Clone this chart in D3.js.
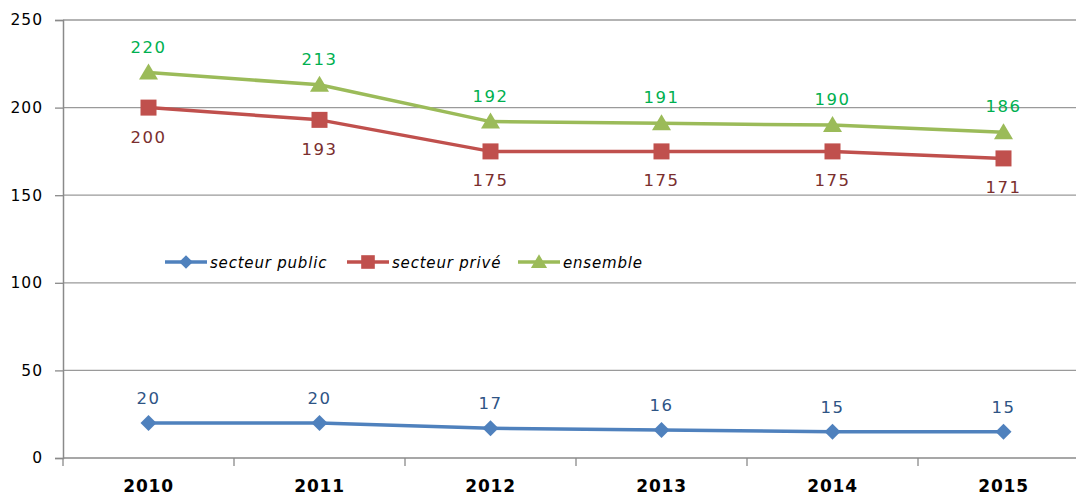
<!DOCTYPE html>
<html><head><meta charset="utf-8">
<script src="https://cdn.jsdelivr.net/npm/d3@7"></script>
<style>body{margin:0;background:#fff}svg{display:block}</style>
</head><body>
<svg id="c" width="1076" height="495"></svg>
<script>
const years = ["2010","2011","2012","2013","2014","2015"];
const publicVals = [20, 20, 17, 16, 15, 15];
const priveVals = [200, 193, 175, 175, 175, 171];
const ensembleVals = [220, 213, 192, 191, 190, 186];
const yTicks = [0, 50, 100, 150, 200, 250];
const seriesNames = ["secteur public", "secteur privé", "ensemble"];

const svg = d3.select("#c");
const F = "'DejaVu Sans', Verdana, sans-serif";
const x = d3.scaleBand().domain(years).range([63, 1089]);
const y = d3.scaleLinear().domain([0, 250]).range([458, 20]);

// gridlines
svg.append("g").selectAll("line").data(yTicks.filter(d => d > 0)).join("line")
  .attr("x1", 63).attr("x2", 1076).attr("y1", d => y(d)).attr("y2", d => y(d))
  .attr("stroke", "#9a9a9a").attr("stroke-width", 1.3);

// y axis
const ya = svg.append("g").attr("transform", "translate(63,0)")
  .call(d3.axisLeft(y).tickValues(yTicks).tickSize(8).tickPadding(12));
ya.select(".domain").attr("stroke", "#8a8a8a").attr("stroke-width", 1.5);
ya.selectAll(".tick line").attr("stroke", "#8a8a8a").attr("stroke-width", 1.3);
ya.selectAll("text").attr("font-family", F).attr("font-size", 15.5).attr("fill", "#000")
  .style("letter-spacing", "1px");

// x axis
const xa = svg.append("g").attr("transform", "translate(0,458)")
  .call(d3.axisBottom(x).tickSize(0).tickPadding(22));
xa.select(".domain").attr("d", "M63,0H1076").attr("stroke", "#8a8a8a").attr("stroke-width", 1.5);
xa.selectAll("text").attr("font-family", F).attr("font-size", 17).attr("font-weight", "bold")
  .attr("fill", "#000").style("letter-spacing", "0.8px");
svg.append("g").selectAll("line").data(years).join("line")
  .attr("x1", d => x(d)).attr("x2", d => x(d)).attr("y1", 458).attr("y2", 466)
  .attr("stroke", "#8a8a8a").attr("stroke-width", 1.3);

const series = [
  {name: seriesNames[0], vals: publicVals, color: "#4F81BD", lab: "#2E5485", marker: "diamond", dy: -19},
  {name: seriesNames[1], vals: priveVals, color: "#C0504D", lab: "#7A2E2E", marker: "square", dy: 35},
  {name: seriesNames[2], vals: ensembleVals, color: "#9BBB59", lab: "#00B050", marker: "triangle", dy: -20}
];

function marker(g, type, color) {
  if (type === "diamond") g.append("path").attr("d", "M0,-8L8,0L0,8L-8,0Z").attr("fill", color);
  if (type === "square") g.append("rect").attr("x", -8).attr("y", -8).attr("width", 16).attr("height", 16).attr("fill", color);
  if (type === "triangle") g.append("path").attr("d", "M0,-9L9.5,7L-9.5,7Z").attr("fill", color);
}

const cx = d => x(d) + x.bandwidth() / 2;
series.forEach(s => {
  const line = d3.line().x((d, i) => cx(years[i])).y(d => y(d));
  svg.append("path").datum(s.vals).attr("d", line).attr("fill", "none")
    .attr("stroke", s.color).attr("stroke-width", 3.5).attr("stroke-linejoin", "round");
  s.vals.forEach((v, i) => {
    const g = svg.append("g").attr("transform", `translate(${cx(years[i])},${y(v)})`);
    marker(g, s.marker, s.color);
    svg.append("text").attr("x", cx(years[i])).attr("y", y(v) + s.dy)
      .attr("text-anchor", "middle").attr("font-family", F).attr("font-size", 16.5)
      .attr("fill", s.lab).style("letter-spacing", "1.5px").text(v);
  });
});

// legend
const legX = [165, 347, 518];
const legend = svg.append("g");
series.forEach((s, i) => {
  const g = legend.append("g").attr("transform", `translate(${legX[i]},262)`);
  g.append("line").attr("x1", 0).attr("x2", 42).attr("stroke", s.color).attr("stroke-width", 3.5);
  const m = g.append("g");
  marker(m, s.marker, s.color);
  m.attr("transform", "translate(21,0) scale(0.85)");
  g.append("text").attr("x", 45).attr("y", 5.5).attr("font-family", F).attr("font-size", 15)
    .attr("font-style", "italic").attr("fill", "#000").style("letter-spacing", "0.8px").text(s.name);
});
</script>
</body></html>
